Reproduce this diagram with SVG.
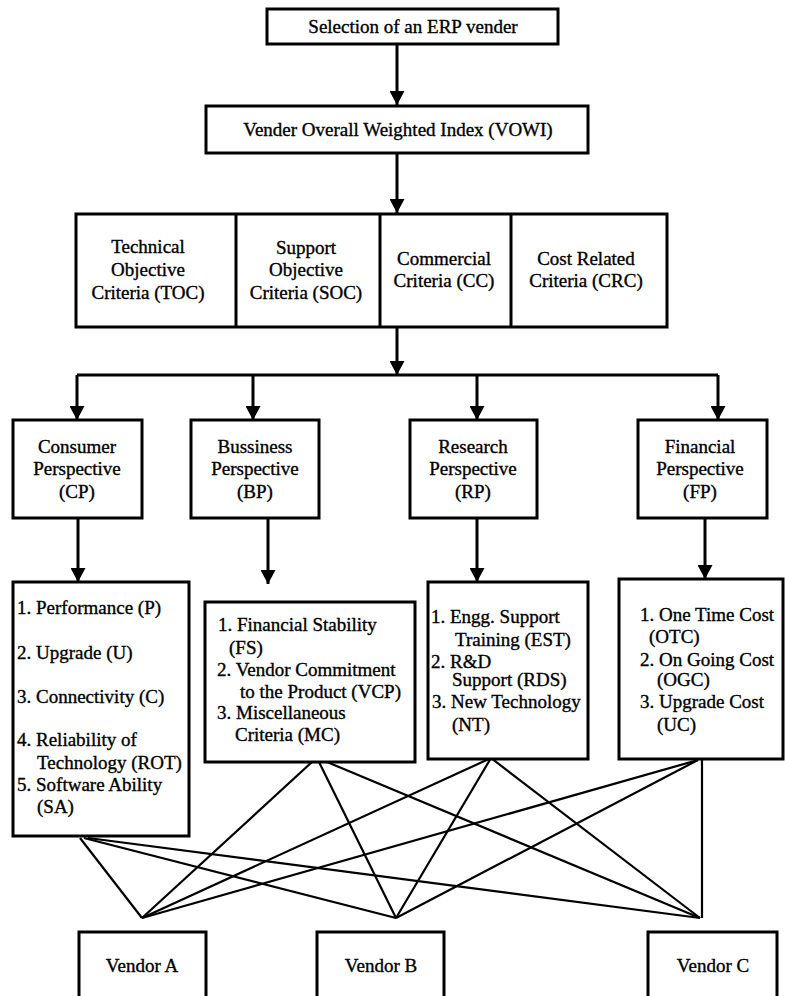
<svg xmlns="http://www.w3.org/2000/svg" width="785" height="996" viewBox="0 0 785 996">
<style>
  .box { fill: #ffffff; stroke: #000000; stroke-width: 3; }
  .t { font-family: "Liberation Serif", "Times New Roman", serif; font-size: 19px; fill: #000000; stroke: #000000; stroke-width: 0.35; }
  .c { text-anchor: middle; }
  .arr { stroke: #000000; stroke-width: 3; fill: none; marker-end: url(#ah); }
  .ln { stroke: #000000; stroke-width: 3; fill: none; }
  .x { stroke: #000000; stroke-width: 2.2; fill: none; }
</style>
<defs>
  <marker id="ah" markerUnits="userSpaceOnUse" markerWidth="15" markerHeight="15" refX="14" refY="7.5" orient="auto">
    <path d="M0,0 L14,7.5 L0,15 z" fill="#000000"/>
  </marker>
</defs>
<rect width="785" height="996" fill="#ffffff"/>

<g id="connectors">
  <line class="arr" x1="397" y1="44" x2="397" y2="105"/>
  <line class="arr" x1="397" y1="153" x2="397" y2="213"/>
  <line class="arr" x1="397" y1="327" x2="397" y2="375"/>
  <line class="ln" x1="77" y1="375" x2="718" y2="375"/>
  <line class="arr" x1="77" y1="375" x2="77" y2="420"/>
  <line class="arr" x1="253" y1="375" x2="253" y2="420"/>
  <line class="arr" x1="477" y1="375" x2="477" y2="420"/>
  <line class="arr" x1="718" y1="375" x2="718" y2="420"/>
  <line class="arr" x1="78" y1="518" x2="78" y2="582"/>
  <line class="arr" x1="268" y1="518" x2="268" y2="584"/>
  <line class="arr" x1="477" y1="518" x2="477" y2="582"/>
  <line class="arr" x1="705" y1="518" x2="705" y2="579"/>
  <!-- CP to vendors -->
  <line class="x" x1="80" y1="838" x2="142" y2="918"/>
  <line class="x" x1="84" y1="838" x2="396" y2="918"/>
  <line class="x" x1="88" y1="838" x2="700" y2="918"/>
  <!-- BP to vendors -->
  <line class="x" x1="312" y1="762" x2="142" y2="918"/>
  <line class="x" x1="319" y1="762" x2="396" y2="918"/>
  <line class="x" x1="327" y1="762" x2="700" y2="918"/>
  <!-- RP to vendors -->
  <line class="x" x1="491" y1="758" x2="142" y2="918"/>
  <line class="x" x1="491" y1="758" x2="396" y2="918"/>
  <line class="x" x1="491" y1="758" x2="700" y2="918"/>
  <!-- FP to vendors -->
  <line class="x" x1="698" y1="760" x2="142" y2="918"/>
  <line class="x" x1="698" y1="760" x2="396" y2="918"/>
  <line class="x" x1="702" y1="760" x2="702" y2="918"/>
</g>

<g id="selection">
  <rect class="box" x="267" y="9" width="291" height="35"/>
  <text class="t c" x="413" y="33">Selection of an ERP vender</text>
</g>

<g id="vowi">
  <rect class="box" x="206" y="106" width="382" height="47"/>
  <text class="t c" x="398" y="136">Vender Overall Weighted Index (VOWI)</text>
</g>

<g id="criteria">
  <rect class="box" x="76" y="214" width="591" height="113"/>
  <line class="ln" x1="236" y1="214" x2="236" y2="327"/>
  <line class="ln" x1="380" y1="214" x2="380" y2="327"/>
  <line class="ln" x1="511" y1="214" x2="511" y2="327"/>
</g>
<g id="toc">
  <text class="t c" x="148" y="253">Technical</text>
  <text class="t c" x="148" y="276">Objective</text>
  <text class="t c" x="148" y="299">Criteria (TOC)</text>
</g>
<g id="soc">
  <text class="t c" x="306" y="254">Support</text>
  <text class="t c" x="306" y="276">Objective</text>
  <text class="t c" x="306" y="299">Criteria (SOC)</text>
</g>
<g id="cc">
  <text class="t c" x="444" y="265">Commercial</text>
  <text class="t c" x="444" y="287">Criteria (CC)</text>
</g>
<g id="crc">
  <text class="t c" x="586" y="265">Cost Related</text>
  <text class="t c" x="586" y="287">Criteria (CRC)</text>
</g>

<g id="cp">
  <rect class="box" x="13" y="420" width="129" height="98"/>
  <text class="t c" x="77" y="453">Consumer</text>
  <text class="t c" x="77" y="475">Perspective</text>
  <text class="t c" x="77" y="498">(CP)</text>
</g>
<g id="bp">
  <rect class="box" x="191" y="420" width="128" height="98"/>
  <text class="t c" x="255" y="453">Bussiness</text>
  <text class="t c" x="255" y="475">Perspective</text>
  <text class="t c" x="255" y="498">(BP)</text>
</g>
<g id="rp">
  <rect class="box" x="410" y="420" width="127" height="98"/>
  <text class="t c" x="473" y="453">Research</text>
  <text class="t c" x="473" y="475">Perspective</text>
  <text class="t c" x="473" y="498">(RP)</text>
</g>
<g id="fp">
  <rect class="box" x="638" y="420" width="129" height="98"/>
  <text class="t c" x="700" y="453">Financial</text>
  <text class="t c" x="700" y="475">Perspective</text>
  <text class="t c" x="700" y="498">(FP)</text>
</g>

<g id="cp-list">
  <rect class="box" x="13" y="582" width="176" height="254"/>
  <text class="t" x="17" y="614">1. Performance (P)</text>
  <text class="t" x="17" y="659">2. Upgrade (U)</text>
  <text class="t" x="17" y="703">3. Connectivity (C)</text>
  <text class="t" x="17" y="746">4. Reliability of</text>
  <text class="t" x="37" y="769">Technology (ROT)</text>
  <text class="t" x="17" y="791">5. Software Ability</text>
  <text class="t" x="37" y="813">(SA)</text>
</g>
<g id="bp-list">
  <rect class="box" x="205" y="602" width="210" height="160"/>
  <text class="t" x="218" y="631">1. Financial Stability</text>
  <text class="t" x="229" y="654">(FS)</text>
  <text class="t" x="217" y="676">2. Vendor Commitment</text>
  <text class="t" x="240" y="698">to the Product (VCP)</text>
  <text class="t" x="217" y="719">3. Miscellaneous</text>
  <text class="t" x="235" y="741">Criteria (MC)</text>
</g>
<g id="rp-list">
  <rect class="box" x="428" y="582" width="160" height="177"/>
  <text class="t" x="431" y="623">1. Engg. Support</text>
  <text class="t" x="455" y="646">Training (EST)</text>
  <text class="t" x="431" y="668">2. R&amp;D</text>
  <text class="t" x="452" y="686">Support (RDS)</text>
  <text class="t" x="432" y="708">3. New Technology</text>
  <text class="t" x="452" y="731">(NT)</text>
</g>
<g id="fp-list">
  <rect class="box" x="619" y="579" width="164" height="180"/>
  <text class="t" x="640" y="621">1. One Time Cost</text>
  <text class="t" x="649" y="643">(OTC)</text>
  <text class="t" x="640" y="666">2. On Going Cost</text>
  <text class="t" x="657" y="686">(OGC)</text>
  <text class="t" x="640" y="708">3. Upgrade Cost</text>
  <text class="t" x="657" y="731">(UC)</text>
</g>

<g id="vendor-a">
  <rect class="box" x="79" y="932" width="127" height="72"/>
  <text class="t c" x="142" y="972">Vendor A</text>
</g>
<g id="vendor-b">
  <rect class="box" x="317" y="932" width="127" height="72"/>
  <text class="t c" x="381" y="972">Vendor B</text>
</g>
<g id="vendor-c">
  <rect class="box" x="648" y="932" width="129" height="72"/>
  <text class="t c" x="713" y="972">Vendor C</text>
</g>
</svg>
